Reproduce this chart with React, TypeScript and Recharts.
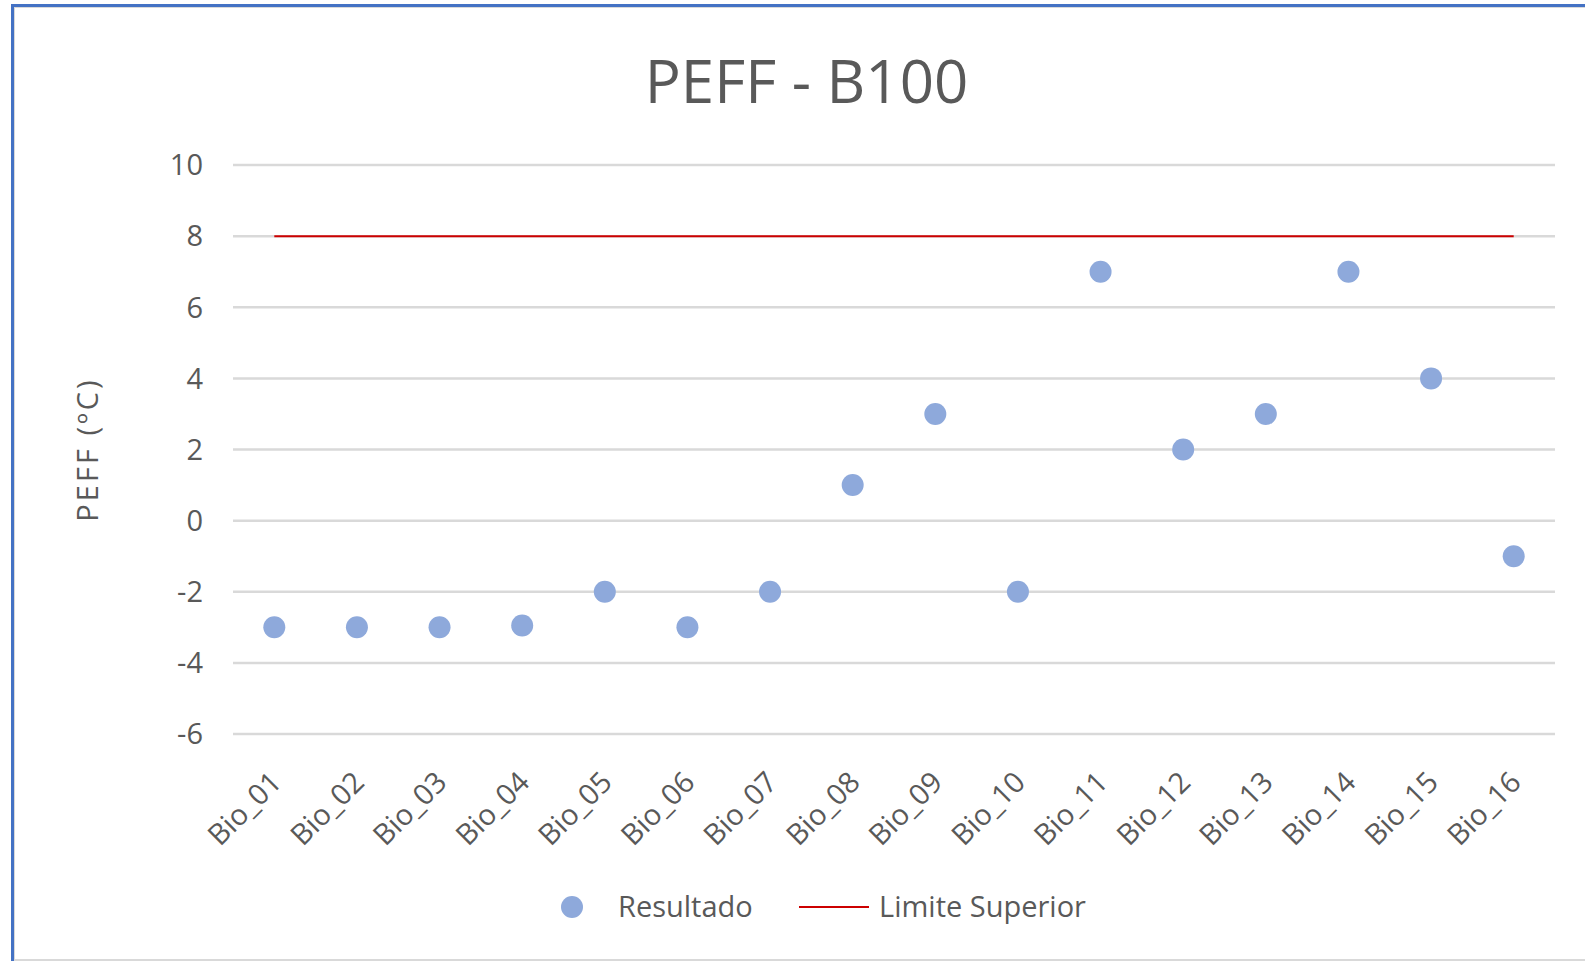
import React from 'react';
import { ComposedChart, Scatter, Line, XAxis, YAxis, CartesianGrid, Legend } from 'recharts';

const categories = [
  'Bio_01', 'Bio_02', 'Bio_03', 'Bio_04', 'Bio_05', 'Bio_06', 'Bio_07', 'Bio_08',
  'Bio_09', 'Bio_10', 'Bio_11', 'Bio_12', 'Bio_13', 'Bio_14', 'Bio_15', 'Bio_16',
];
const resultado = [-3, -3, -3, -2.95, -2, -3, -2, 1, 3, -2, 7, 2, 3, 7, 4, -1];
const limiteSuperior = [8, 8, 8, 8, 8, 8, 8, 8, 8, 8, 8, 8, 8, 8, 8, 8];
const yTicks = [-6, -4, -2, 0, 2, 4, 6, 8, 10];

const data = categories.map((name, i) => ({
  name,
  resultado: resultado[i],
  limite: limiteSuperior[i],
}));

const FONT = '"Open Sans", sans-serif';
const TEXT = '#595959';
const DOT = '#8EA9DB';
const RED = '#CC0000';

const CategoryTick = (props: any) => {
  const { x, y, payload } = props;
  return (
    <g transform={`translate(${x + 9},${y + 50})`}>
      <text
        transform="rotate(-45)"
        textAnchor="end"
        fill={TEXT}
        fontSize={29}
        fontFamily={FONT}
      >
        {payload.value}
      </text>
    </g>
  );
};

const Dot = (props: any) => {
  const { cx, cy } = props;
  return <circle cx={cx} cy={cy} r={11} fill={DOT} />;
};

const renderLegend = () => (
  <svg width={1585} height={40} style={{ display: 'block' }}>
    <circle cx={572} cy={20} r={11} fill={DOT} />
    <text x={618} y={30} fontSize={29} fontFamily={FONT} fill={TEXT}>
      Resultado
    </text>
    <line x1={799} x2={869} y1={20} y2={20} stroke={RED} strokeWidth={2} />
    <text x={879} y={30} fontSize={29} fontFamily={FONT} fill={TEXT}>
      Limite Superior
    </text>
  </svg>
);

export default function App() {
  return (
    <div
      style={{
        position: 'absolute',
        left: 0,
        top: 0,
        width: 1585,
        height: 962,
        overflow: 'hidden',
        background: '#fff',
      }}
    >
      <div
        style={{
          position: 'absolute',
          left: 11,
          top: 4,
          width: 1600,
          height: 957,
          borderLeft: '3px solid #4472C4',
          borderTop: '3px solid #4472C4',
          boxSizing: 'border-box',
        }}
      >
        <div
          style={{
            width: '100%',
            height: '100%',
            borderLeft: '1px solid #d9d9d9',
            borderTop: '1px solid #d9d9d9',
            borderBottom: '2px solid #d9d9d9',
            boxSizing: 'border-box',
          }}
        />
      </div>
      <div
        style={{
          position: 'absolute',
          left: 0,
          top: 42,
          width: 1585,
          textAlign: 'center',
          paddingLeft: 28,
          boxSizing: 'border-box',
          fontFamily: FONT,
          fontSize: 60,
          lineHeight: '76px',
          color: TEXT,
        }}
      >
        PEFF - B100
      </div>
      <div style={{ position: 'absolute', left: 0, top: 0 }}>
        <ComposedChart
          width={1585}
          height={962}
          data={data}
          margin={{ top: 165, right: 30, bottom: 35, left: 0 }}
        >
          <CartesianGrid horizontal vertical={false} stroke="#d9d9d9" strokeWidth={2.5} />
          <XAxis
            dataKey="name"
            type="category"
            height={153}
            axisLine={false}
            tickLine={false}
            tickSize={0}
            tickMargin={0}
            interval={0}
            padding={{ left: 41.3, right: 41.3 }}
            tick={<CategoryTick />}
          />
          <YAxis
            type="number"
            domain={[-6, 10]}
            ticks={yTicks}
            width={233}
            axisLine={false}
            tickLine={false}
            tickSize={0}
            tickMargin={30}
            tick={{ fill: TEXT, fontSize: 29, fontFamily: FONT }}
            label={{
              value: 'PEFF (ºC)',
              angle: -90,
              position: 'center',
              dx: -29,
              fill: TEXT,
              fontSize: 29,
              fontFamily: FONT,
              style: { letterSpacing: 3 },
            }}
          />
          <Line
            dataKey="limite"
            name="Limite Superior"
            stroke={RED}
            strokeWidth={2}
            dot={false}
            activeDot={false}
            isAnimationActive={false}
          />
          <Scatter
            dataKey="resultado"
            name="Resultado"
            fill={DOT}
            shape={<Dot />}
            isAnimationActive={false}
          />
          <Legend
            verticalAlign="bottom"
            height={40}
            content={renderLegend}
            wrapperStyle={{ left: 0, width: 1585 }}
          />
        </ComposedChart>
      </div>
    </div>
  );
}
